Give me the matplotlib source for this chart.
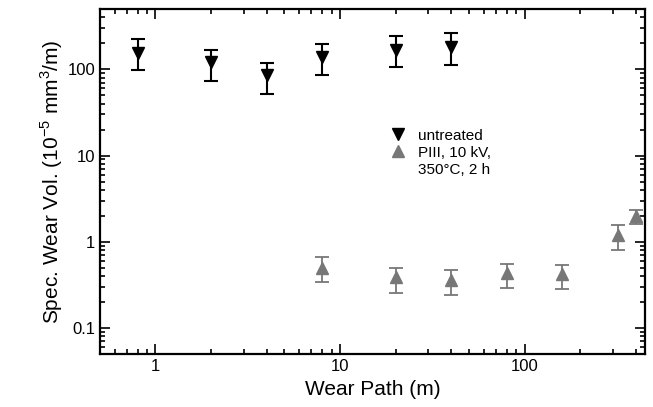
import matplotlib
matplotlib.use("Agg")
import matplotlib.pyplot as plt
import numpy as np
from matplotlib.lines import Line2D
from matplotlib.ticker import LogLocator, NullFormatter, FixedFormatter, FixedLocator

plt.rcParams['font.family'] = ['Liberation Sans', 'DejaVu Sans']
plt.rcParams['mathtext.fontset'] = 'custom'
plt.rcParams['mathtext.rm'] = 'Liberation Sans'

# untreated
x_untr = [0.8, 2, 4, 8, 20, 40]
y_untr = [153, 121, 85, 139, 166, 181]
hi_untr = [222, 166, 119, 198, 240, 263]
lo_untr = [97, 73, 51, 85, 105, 111]

# PIII, 10 kV, 350 C, 2 h
x_piii = [8, 20, 40, 80, 160, 320, 400]
y_piii = [0.50, 0.39, 0.36, 0.44, 0.42, 1.19, 2.0]
hi_piii = [0.66, 0.50, 0.475, 0.56, 0.54, 1.56, 2.32]
lo_piii = [0.34, 0.255, 0.242, 0.29, 0.284, 0.80, 1.6]

gray = '#777777'

fig = plt.figure(figsize=(6.53, 4.07), dpi=100)
ax = fig.add_axes([0.153, 0.130, 0.835, 0.848])

y = np.array(y_untr)
ax.errorbar(x_untr, y, yerr=[y - np.array(lo_untr), np.array(hi_untr) - y],
            fmt='v', color='black', ms=9, elinewidth=1.5, capsize=5, capthick=1.5)
y = np.array(y_piii)
ax.errorbar(x_piii, y, yerr=[y - np.array(lo_piii), np.array(hi_piii) - y],
            fmt='^', color=gray, ms=9, elinewidth=1.3, capsize=5, capthick=1.3)

ax.set_xscale('log')
ax.set_yscale('log')
ax.set_xlim(0.5, 450)
ax.set_ylim(0.05, 500)

ax.xaxis.set_major_locator(FixedLocator([1, 10, 100]))
ax.xaxis.set_major_formatter(FixedFormatter(['1', '10', '100']))
ax.yaxis.set_major_locator(FixedLocator([0.1, 1, 10, 100]))
ax.yaxis.set_major_formatter(FixedFormatter(['0.1', '1', '10', '100']))
ax.xaxis.set_minor_locator(LogLocator(base=10, subs=np.arange(2, 10), numticks=20))
ax.yaxis.set_minor_locator(LogLocator(base=10, subs=np.arange(2, 10), numticks=20))
ax.xaxis.set_minor_formatter(NullFormatter())
ax.yaxis.set_minor_formatter(NullFormatter())

ax.tick_params(which='both', direction='in', top=True, right=True, width=1.2)
ax.tick_params(which='major', length=7, labelsize=12)
ax.tick_params(which='minor', length=3.5)
for s in ax.spines.values():
    s.set_linewidth(1.6)

ax.set_xlabel('Wear Path (m)', fontsize=15, labelpad=4)
ax.set_ylabel('Spec. Wear Vol. (10$^{-5}$ mm$^3$/m)', fontsize=15, labelpad=2)

handles = [Line2D([], [], marker='v', color='black', ls='none', ms=8),
           Line2D([], [], marker='^', color=gray, ls='none', ms=8),
           Line2D([], [], ls='none')]
labels = ['untreated', 'PIII, 10 kV,', '350\u00b0C, 2 h']
ax.legend(handles, labels, loc='upper left', frameon=False, fontsize=11,
          bbox_to_anchor=(381 / 653, 1 - 121 / 407), bbox_transform=fig.transFigure,
          borderpad=0, handletextpad=0.75, handlelength=1.2, labelspacing=0.2)

fig.savefig('out.png', dpi=100)
